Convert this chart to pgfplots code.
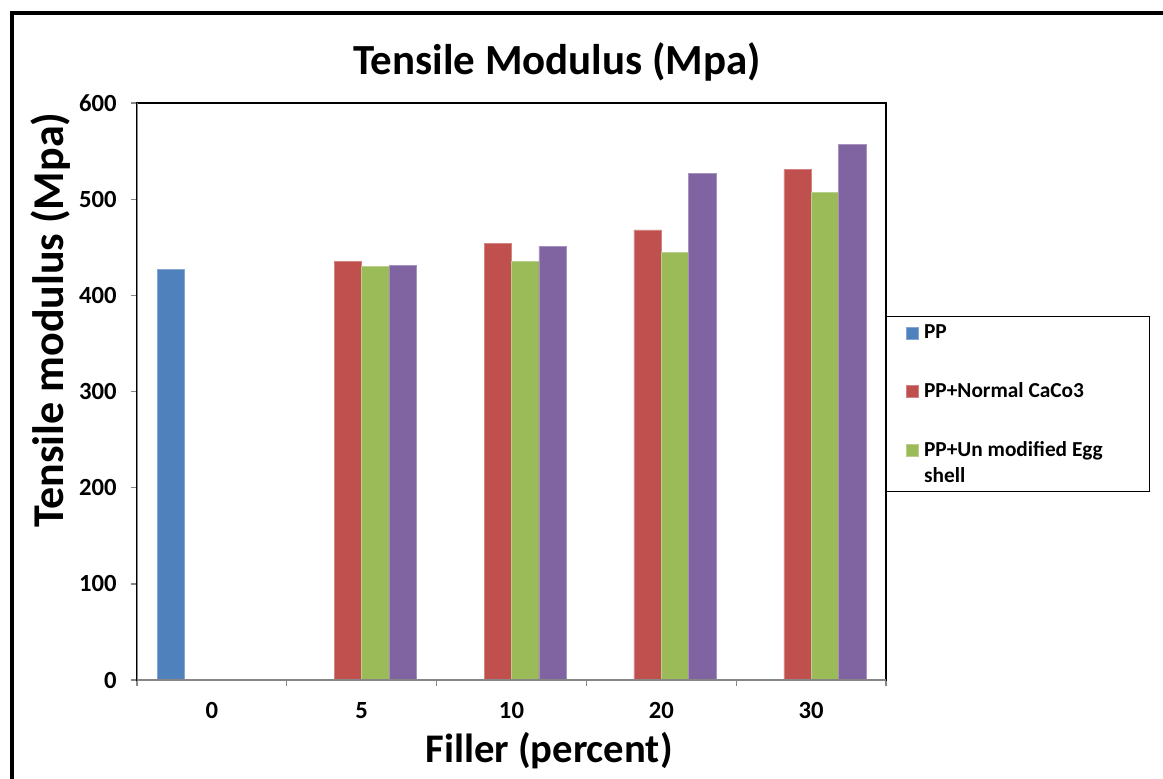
\documentclass[border=0pt]{standalone}
\usepackage{fontspec}
\setmainfont{Carlito}
\usepackage{pgfplots}
\pgfplotsset{compat=1.18}
\definecolor{cBlue}{HTML}{4F81BD}
\definecolor{cRed}{HTML}{C0504D}
\definecolor{cGreen}{HTML}{9BBB59}
\definecolor{cPurple}{HTML}{8064A2}
\definecolor{axgray}{HTML}{868686}
\begin{document}
\begin{tikzpicture}
\path[use as bounding box] (0pt,0pt) rectangle (872.25pt,583.5pt);
\begin{scope}
\clip (0pt,0pt) rectangle (872.25pt,583.5pt);
\draw[line width=3pt] (8.625pt,-20pt) -- (8.625pt,573.375pt) -- (900pt,573.375pt);
\end{scope}
\begin{axis}[
  at={(102.75pt,73.5pt)}, anchor=south west,
  scale only axis, width=561.75pt, height=432.75pt,
  ybar=0pt, bar width=20.5pt,
  xmin=-0.5, xmax=4.5, ymin=0, ymax=600,
  ytick={0,100,...,600},
  xtick={0,1,2,3,4}, xticklabels={0,5,10,20,30},
  minor xtick={-0.5,0.5,1.5,2.5,3.5,4.5},
  major x tick style={draw=none},
  tick pos=left, tick align=outside,
  major tick length=4.5pt, minor tick length=4.5pt,
  tick style={axgray, line width=1pt},
  axis line style={black, line width=0.9pt},
  ticklabel style={font=\bfseries\fontsize{18.5}{18.5}\selectfont},
  /pgf/number format/assume math mode=true,
  xticklabel style={anchor=base, yshift=-24.5pt},
  yticklabel style={anchor=east, xshift=-7.25pt},
  legend entries={PP, PP+Normal CaCo3, {PP+Un modified Egg\\shell}},
  legend image code/.code={\fill[#1] (0pt,0pt) rectangle (9pt,9pt);},
  legend style={at={(1,0.6308)}, anchor=north west, draw=black, line width=0.9pt,
    inner xsep=14.25pt, inner ysep=6.4pt, row sep=32.5pt, column sep=4.5pt,
    font=\bfseries\fontsize{16}{20}\selectfont,
    cells={anchor=base west},
    nodes={inner sep=0pt, text height={}, text depth={}, text width=154.5pt, align=flush left}},
]
\addplot[fill=cBlue, draw=cBlue!70!white, line width=0.4pt] coordinates {(0,427)};
\addplot[fill=cRed, draw=cRed!70!white, line width=0.4pt] coordinates {(1,435) (2,454) (3,468) (4,531)};
\addplot[fill=cGreen, draw=cGreen!70!white, line width=0.4pt] coordinates {(1,430) (2,435) (3,445) (4,507)};
\addplot[fill=cPurple, draw=cPurple!70!white, line width=0.4pt] coordinates {(1,431) (2,451) (3,527) (4,557)};
\draw[axgray, line width=1.5pt] (rel axis cs:0,1) -- (rel axis cs:0,0) -- (rel axis cs:1,0);
\end{axis}
\node[anchor=base, font=\bfseries\fontsize{32.2}{36}\selectfont] at (417.75pt,527.25pt) {Tensile Modulus (Mpa)};
\node[anchor=base, rotate=90, font=\bfseries\fontsize{33}{40}\selectfont] at (47.25pt,343.5pt) {Tensile modulus (Mpa)};
\node[anchor=base, font=\bfseries\fontsize{30.5}{34}\selectfont] at (411.75pt,12pt) {Filler (percent)};
\end{tikzpicture}
\end{document}
